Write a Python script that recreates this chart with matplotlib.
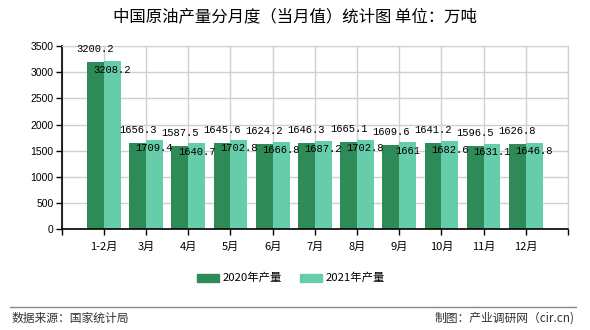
import matplotlib
matplotlib.use("Agg")
import matplotlib.pyplot as plt
from matplotlib.patches import Rectangle
from matplotlib.lines import Line2D
import numpy as np

plt.rcParams['font.family'] = ['Noto Sans CJK SC', 'DejaVu Sans']

categories = ["1-2月", "3月", "4月", "5月", "6月", "7月", "8月", "9月", "10月", "11月", "12月"]
v2020 = [3200.2, 1656.3, 1587.5, 1645.6, 1624.2, 1646.3, 1665.1, 1609.6, 1641.2, 1596.5, 1626.8]
v2021 = [3208.2, 1709.4, 1640.7, 1702.8, 1666.8, 1687.2, 1702.8, 1661, 1682.6, 1631.1, 1646.8]
lab2020 = ["3200.2", "1656.3", "1587.5", "1645.6", "1624.2", "1646.3", "1665.1", "1609.6", "1641.2", "1596.5", "1626.8"]
lab2021 = ["3208.2", "1709.4", "1640.7", "1702.8", "1666.8", "1687.2", "1702.8", "1661", "1682.6", "1631.1", "1646.8"]
series_names = ["2020年产量", "2021年产量"]
yticks = [0, 500, 1000, 1500, 2000, 2500, 3000, 3500]

c1 = "#2E8B57"
c2 = "#66CDAA"
grid_c = "#d0d0d0"

fig = plt.figure(figsize=(5.9, 3.3), dpi=100)
ax = fig.add_axes([61.7/590, 1-229.3/330, (568-61.7)/590, (229.3-46)/330])

x = np.arange(len(categories))
w = 0.4
ax.bar(x - w/2, v2020, width=w, color=c1, zorder=2)
ax.bar(x + w/2, v2021, width=w, color=c2, zorder=2)

ax.set_xlim(-1, len(categories))
ax.set_ylim(0, 3500)
ax.set_yticks(yticks)
ax.set_yticklabels([str(t) for t in yticks], fontsize=7.5, family=['Liberation Sans'])
ax.set_xticks(np.arange(-1, len(categories) + 1))
ax.set_xticklabels([""] + categories + [""], fontsize=8)
ax.tick_params(axis='both', length=4, width=1, color='black', pad=2)
ax.tick_params(axis='x', pad=5)
ax.grid(True, color=grid_c, linewidth=1, zorder=0)
ax.set_axisbelow(True)
for s in ['top', 'right']:
    ax.spines[s].set_color(grid_c)
for s in ['left', 'bottom']:
    ax.spines[s].set_color('black')
    ax.spines[s].set_linewidth(1.2)

lf = dict(fontsize=7.6, family=['Liberation Mono'], ha='center', va='center', zorder=3)
for i in range(len(categories)):
    ax.annotate(lab2020[i], (x[i] - w/2, v2020[i]), xytext=(0, 9.4), textcoords='offset points', **lf)
    ax.annotate(lab2021[i], (x[i] + w/2, v2021[i]), xytext=(0, -6), textcoords='offset points', **lf)

fig.text(295/590, 1-17/330, "中国原油产量分月度（当月值）统计图 单位：万吨", ha='center', va='center', fontsize=11.8)

# legend
fig.patches.append(Rectangle((197/590, 1-281.5/330), 22/590, 8/330, transform=fig.transFigure, color=c1))
fig.text(223/590, 1-277/330, series_names[0], ha='left', va='center', fontsize=8.2)
fig.patches.append(Rectangle((300/590, 1-281.5/330), 22/590, 8/330, transform=fig.transFigure, color=c2))
fig.text(326/590, 1-277/330, series_names[1], ha='left', va='center', fontsize=8.2)

fig.lines.append(Line2D([10/590, 576/590], [1-307/330, 1-307/330], transform=fig.transFigure, color='#888888', linewidth=1))
fig.text(12/590, 1-318/330, "数据来源：国家统计局", ha='left', va='center', fontsize=8.5, color='#333333')
fig.text(575/590, 1-318/330, "制图：产业调研网（cir.cn)", ha='right', va='center', fontsize=8.5, color='#333333')

fig.savefig("out.png", dpi=100, facecolor='white')
